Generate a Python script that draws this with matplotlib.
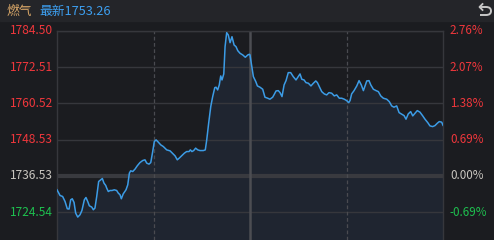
"""Intraday line: 燃气 sector index."""
import matplotlib
matplotlib.use("Agg")
import matplotlib.pyplot as plt
from matplotlib.path import Path
import matplotlib.patches as mpatches

plt.rcParams["font.family"] = ["Noto Sans CJK SC", "DejaVu Sans"]

PREV_CLOSE = 1736.53
LAST = 1753.26

# minute offset from open (0..240, lunch break collapsed at 120)
minutes = [0, 1.9, 3.5, 5.0, 6.4, 7.5, 8.5, 9.5, 10.6, 11.6, 12.9, 14.3, 15.5, 17.0, 18.0,
           19.1, 20.1, 21.6, 22.6, 23.6, 24.7, 25.9, 27.2, 28.2, 29.2, 30.3, 30.9, 31.9, 33.0,
           34.2, 35.6, 37.1, 38.1, 39.2, 40.0, 41.2, 42.9, 44.0, 45.0, 45.8, 47.1, 48.5, 49.9,
           51.6, 53.3, 54.7, 55.8, 57.2, 58.3, 59.5, 60.5, 61.6, 63.0, 64.5, 66.1, 68.2, 70.3,
           71.7, 73.4, 74.8, 76.0, 77.5, 79.2, 80.6, 82.1, 82.9, 83.9, 85.0, 86.2, 87.5, 88.9,
           91.0, 92.2, 93.1, 94.3, 95.6, 96.8, 98.1, 98.9, 99.9, 100.9, 101.8, 102.6, 103.7,
           104.5, 105.5, 106.5, 107.6, 108.8, 110.1, 111.3, 112.4, 113.8, 115.5, 117.1, 118.6,
           119.6, 120.0, 121.1, 122.1, 123.6, 124.6, 126.2, 127.9, 129.3, 131.0, 132.4, 134.1,
           134.9, 136.2, 137.6, 138.7, 139.9, 141.2, 142.4, 143.8, 145.3, 146.9, 148.6, 149.7,
           151.1, 152.2, 153.6, 154.8, 156.3, 157.9, 159.4, 160.9, 161.9, 163.1, 164.6, 166.2,
           167.7, 169.1, 170.8, 172.4, 173.9, 175.5, 177.0, 178.6, 180.1, 181.4, 182.2, 183.2,
           184.7, 186.4, 187.8, 189.2, 190.5, 191.5, 192.6, 194.0, 195.1, 196.7, 198.4, 199.8,
           201.3, 202.9, 205.0, 206.6, 208.1, 209.5, 211.2, 212.7, 214.3, 215.8, 217.0, 218.4,
           219.9, 221.2, 222.6, 224.0, 225.7, 227.4, 228.8, 230.5, 231.9, 233.6, 235.0, 236.5,
           237.7, 239.2, 240.0]
prices = [1731.90, 1730.02, 1729.69, 1728.03, 1725.62, 1725.52, 1728.59, 1728.93, 1727.70,
          1724.20, 1722.87, 1723.63, 1725.06, 1728.59, 1729.36, 1728.03, 1726.61, 1726.18,
          1725.29, 1725.85, 1729.69, 1734.65, 1735.21, 1735.64, 1734.12, 1733.33, 1732.47,
          1731.34, 1731.67, 1731.67, 1731.90, 1731.67, 1730.81, 1730.25, 1728.93, 1730.58,
          1731.90, 1733.56, 1737.43, 1738.19, 1737.96, 1738.75, 1739.84, 1740.93, 1741.60,
          1741.83, 1740.74, 1740.40, 1740.93, 1744.57, 1747.88, 1748.44, 1747.68, 1746.79,
          1746.23, 1745.13, 1744.80, 1744.04, 1743.15, 1741.83, 1742.39, 1743.15, 1744.04,
          1744.57, 1744.57, 1745.13, 1744.57, 1744.90, 1745.70, 1745.13, 1744.90, 1744.90,
          1745.13, 1748.44, 1753.97, 1759.46, 1762.77, 1765.74, 1765.88, 1764.98, 1766.64,
          1769.61, 1768.29, 1770.28, 1779.31, 1783.94, 1783.18, 1780.63, 1782.61, 1779.87,
          1779.31, 1777.98, 1777.12, 1776.56, 1775.80, 1776.56, 1776.79, 1776.56, 1772.69,
          1769.38, 1767.73, 1766.31, 1765.88, 1765.21, 1762.57, 1762.24, 1761.91, 1762.57,
          1763.33, 1764.65, 1764.75, 1764.09, 1762.77, 1766.64, 1768.06, 1770.71, 1770.71,
          1769.38, 1768.29, 1769.18, 1770.28, 1768.52, 1768.29, 1767.40, 1767.20, 1766.31,
          1767.20, 1767.96, 1767.40, 1766.07, 1764.42, 1763.66, 1763.33, 1764.09, 1763.89,
          1763.00, 1763.33, 1762.24, 1762.24, 1761.91, 1761.44, 1760.78, 1761.44, 1763.66,
          1764.75, 1766.31, 1768.06, 1766.64, 1764.75, 1766.31, 1767.96, 1768.06, 1766.64,
          1765.21, 1764.75, 1764.42, 1763.00, 1762.24, 1761.91, 1761.11, 1759.69, 1759.26,
          1759.69, 1757.47, 1756.94, 1756.48, 1755.29, 1757.04, 1757.80, 1756.38, 1757.28,
          1758.13, 1757.61, 1756.38, 1755.29, 1754.17, 1753.07, 1752.84, 1753.17, 1753.97,
          1754.50, 1754.30, 1753.26]

price_ticks = [1784.50, 1772.51, 1760.52, 1748.53, 1736.53, 1724.54]
pct_ticks = ["2.76%", "2.07%", "1.38%", "0.69%", "0.00%", "-0.69%"]

BG = "#1b1c20"
HEAD = "#242529"
GRID = "#36373c"
RED = "#f0373c"
GREEN = "#1ec04f"
NEUTRAL = "#c9c6c0"
LINE = "#3c9ce6"

W, H = 494, 240
fig = plt.figure(figsize=(W / 100, H / 100), dpi=100, facecolor=BG)

# header band
fig.patches.append(plt.Rectangle((0, 1 - 21 / H), 1, 21 / H, transform=fig.transFigure,
                                 color=HEAD, zorder=0))
fig.text(7 / W, 1 - 11 / H, "燃气", color="#d9a768", fontsize=9.2, va="center", ha="left")
fig.text(39 / W, 1 - 11 / H, f"最新{LAST:.2f}", color="#3d9ff0", fontsize=9.2,
         va="center", ha="left")

# back / undo icon in the header (hook arrow)
icon = fig.add_axes([475 / W, 1 - 20 / H, 18 / W, 18 / H], zorder=5)
icon.set_xlim(0, 18)
icon.set_ylim(0, 18)
icon.axis("off")
hook = Path([(5, 13), (11, 13), (16, 13), (16, 9), (16, 5), (11, 5), (5, 5)],
            [Path.MOVETO, Path.LINETO, Path.CURVE3, Path.CURVE3, Path.CURVE3, Path.CURVE3,
             Path.LINETO])
icon.add_patch(mpatches.PathPatch(hook, fill=False, ec="#c8c8c8", lw=1.4))
icon.plot([7.5, 4.5, 7.5], [16, 13, 10], color="#c8c8c8", lw=1.3)

ax = fig.add_axes([57 / W, 0, (443 - 57) / W, (240 - 31) / H], facecolor=BG)
ymax = price_ticks[0]
step = price_ticks[0] - price_ticks[1]
ymin = ymax - step * (209 / 36.2)
ax.set_ylim(ymin, ymax)
ax.set_xlim(0, 240)

ax.fill_between(minutes, prices, ymin, color="#1f2530", zorder=1, lw=0)

for t in price_ticks[:4] + price_ticks[5:]:
    ax.axhline(t, color=GRID, lw=1.0, zorder=2)
ax.axhline(PREV_CLOSE, color="#393a3f", lw=3.0, zorder=2)
ax.axvline(60, color="#4a4b50", lw=0.9, ls=(0, (3, 2)), zorder=2)
ax.axvline(180, color="#4a4b50", lw=0.9, ls=(0, (3, 2)), zorder=2)
ax.axvline(120, color="#4c4d52", lw=1.8, zorder=2)

ax.plot(minutes, prices, color=LINE, lw=1.1, zorder=3)

for s in ax.spines.values():
    s.set_color(GRID)
    s.set_linewidth(1.0)
ax.spines["bottom"].set_visible(False)
ax.set_xticks([])
ax.set_yticks([])

for t, pct in zip(price_ticks, pct_ticks):
    if t > PREV_CLOSE + 0.01:
        c = RED
    elif t < PREV_CLOSE - 0.01:
        c = GREEN
    else:
        c = NEUTRAL
    ax.annotate(f"{t:.2f}", xy=(0, t), xycoords=("axes fraction", "data"),
                xytext=(-3, 0), textcoords="offset points", ha="right", va="center",
                color=c, fontsize=8.6, annotation_clip=False)
    ax.annotate(pct, xy=(1, t), xycoords=("axes fraction", "data"),
                xytext=(5, 0), textcoords="offset points", ha="left", va="center",
                color=c, fontsize=8.4, annotation_clip=False)

fig.savefig("out.png", dpi=100, facecolor=BG)
